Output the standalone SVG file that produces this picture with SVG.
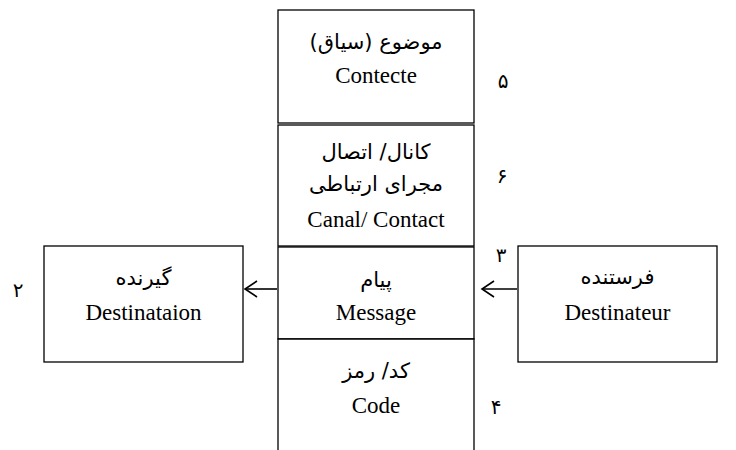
<svg xmlns="http://www.w3.org/2000/svg" width="736" height="450" viewBox="0 0 736 450">
  <style>
    .box { fill: #ffffff; stroke: #000000; stroke-width: 1.3; }
    .lat { font-family: 'Times New Roman', Times, Tinos, 'Liberation Serif', 'Noto Serif', 'DejaVu Serif', serif; font-size: 23px; fill: #000; text-anchor: middle; }
    .fa { font-family: 'DejaVu Sans', sans-serif; font-size: 21px; fill: #000; text-anchor: middle; direction: rtl; }
    .num { font-family: 'DejaVu Sans', sans-serif; font-size: 20px; fill: #000; text-anchor: middle; }
    .wire { fill: none; stroke: #000000; stroke-width: 1.6; }
  </style>

  <!-- central column -->
  <g id="context">
    <rect class="box" x="278" y="10" width="196" height="113"/>
    <text class="fa" x="376" y="49">موضوع (سیاق)</text>
    <text class="lat" x="376" y="83">Contecte</text>
  </g>

  <g id="channel">
    <rect class="box" x="278" y="125" width="196" height="121"/>
    <text class="fa" x="376" y="159">کانال/ اتصال</text>
    <text class="fa" x="376" y="191">مجرای ارتباطی</text>
    <text class="lat" x="376" y="227">Canal/ Contact</text>
  </g>

  <g id="message">
    <rect class="box" x="278" y="247" width="196" height="92"/>
    <text class="fa" x="376" y="287">پیام</text>
    <text class="lat" x="376" y="320">Message</text>
  </g>

  <g id="code">
    <path class="box" d="M278 451 V339 H474 V451"/>
    <text class="fa" x="376" y="378">کد/ رمز</text>
    <text class="lat" x="376" y="413">Code</text>
  </g>

  <!-- side boxes -->
  <g id="receiver">
    <rect class="box" x="44" y="246" width="199" height="116"/>
    <text class="fa" x="143.5" y="285">گیرنده</text>
    <text class="lat" x="143.5" y="320">Destinataion</text>
  </g>

  <g id="sender">
    <rect class="box" x="518" y="246" width="199" height="116"/>
    <text class="fa" x="617.5" y="284">فرستنده</text>
    <text class="lat" x="617.5" y="320">Destinateur</text>
  </g>

  <!-- numbering -->
  <g id="labels">
    <text class="num" x="18" y="297">۲</text>
    <text class="num" x="501" y="262">۳</text>
    <text class="num" x="496" y="414">۴</text>
    <text class="num" x="503" y="88">۵</text>
    <text class="num" x="502" y="183">۶</text>
  </g>

  <!-- connectors -->
  <g id="connectors">
    <path class="wire" d="M277 289 H245"/>
    <path class="wire" d="M257 281 L245 289 L257 297"/>
    <path class="wire" d="M517 289 H482"/>
    <path class="wire" d="M494 281 L482 289 L494 297"/>
  </g>
</svg>
